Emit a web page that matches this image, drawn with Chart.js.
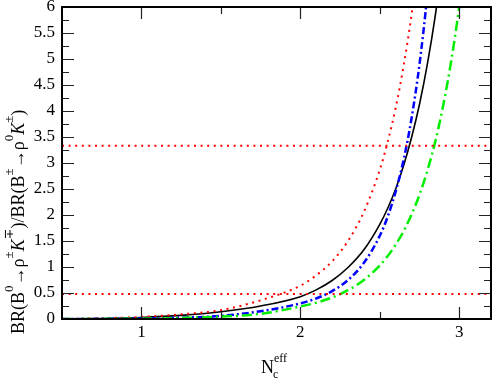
<!DOCTYPE html>
<html>
<head>
<meta charset="utf-8">
<script src="https://cdn.jsdelivr.net/npm/chart.js@4/dist/chart.umd.min.js"></script>
<style>
  html, body { margin: 0; padding: 0; background: #fff; }
  canvas { display: block; }
</style>
</head>
<body>
<canvas id="c" width="493" height="382"></canvas>
<script>
// valores: cociente de BR frente a Nc^eff
const nc = [0.5, 0.75, 1.0, 1.25, 1.5, 1.75, 2.0, 2.1, 2.2, 2.3, 2.4, 2.5, 2.55, 2.6, 2.65, 2.7, 2.75, 2.8, 2.85, 2.9, 2.95, 3.0, 3.05];
const ratioBlack = [0, 0.01, 0.03, 0.07, 0.14, 0.25, 0.43, 0.56, 0.74, 0.99, 1.33, 1.82, 2.13, 2.5, 2.95, 3.49, 4.13, 4.91, 5.85, 7.0, 8.4, 10.1, 12.2];
const ratioRed = [0, 0.015, 0.04, 0.09, 0.17, 0.36, 0.64, 0.84, 1.11, 1.5, 2.06, 2.87, 3.41, 4.06, 4.87, 5.85, 7.06, 8.55, 10.4, 12.7, 15.5, 19, 23];
const ratioBlue = [0, 0.003, 0.01, 0.025, 0.06, 0.15, 0.3, 0.395, 0.536, 0.749, 1.08, 1.6, 1.97, 2.45, 3.06, 3.86, 4.9, 6.27, 8.08, 10.5, 13.7, 18, 24];
const ratioGreen = [0, 0.002, 0.006, 0.02, 0.045, 0.1, 0.24, 0.313, 0.414, 0.554, 0.75, 1.03, 1.21, 1.43, 1.69, 2.01, 2.39, 2.86, 3.42, 4.12, 4.97, 6.01, 7.3];

// bandas experimentales (líneas rojas horizontales)
const bandX = [0.5, 3.2];
const bandHigh = 3.33;
const bandLow = 0.48;

const xTicks = [1, 2, 3];
const xMinor = [1.5, 2.5];
const yTicks = [0, 0.5, 1, 1.5, 2, 2.5, 3, 3.5, 4, 4.5, 5, 5.5, 6];
const yMinor = [0.25, 0.75, 1.25, 1.75, 2.25, 2.75, 3.25, 3.75, 4.25, 4.75, 5.25, 5.75];

const SERIF = '"Liberation Serif", "DejaVu Serif", serif';

const pts = arr => nc.map((x, i) => ({ x, y: arr[i] }));
const band = v => bandX.map(x => ({ x, y: v }));

const base = { pointRadius: 0, fill: false, cubicInterpolationMode: 'monotone', clip: 0 };

// marco, marcas hacia dentro en los cuatro lados y títulos con super/subíndices
const framePlugin = {
  id: 'frame',
  afterDraw(chart) {
    const { ctx, chartArea: a, scales: { x, y } } = chart;
    ctx.save();
    ctx.strokeStyle = '#222';
    ctx.lineWidth = 1.2;
    ctx.beginPath();
    const tickX = (v, len) => {
      const px = Math.round(x.getPixelForValue(v)) + 0.5;
      ctx.moveTo(px, a.bottom); ctx.lineTo(px, a.bottom - len);
      ctx.moveTo(px, a.top); ctx.lineTo(px, a.top + len);
    };
    const tickY = (v, len) => {
      const py = Math.round(y.getPixelForValue(v)) + 0.5;
      ctx.moveTo(a.left, py); ctx.lineTo(a.left + len, py);
      ctx.moveTo(a.right, py); ctx.lineTo(a.right - len, py);
    };
    xTicks.forEach(v => tickX(v, 12));
    xMinor.forEach(v => tickX(v, 7));
    yTicks.forEach(v => tickY(v, 12));
    yMinor.forEach(v => tickY(v, 7));
    ctx.stroke();

    ctx.strokeStyle = '#000';
    ctx.lineWidth = 2;
    ctx.strokeRect(a.left, a.top, a.right - a.left, a.bottom - a.top);

    // título eje x: N_c^eff
    ctx.fillStyle = '#000';
    ctx.textBaseline = 'alphabetic';
    ctx.font = '18px ' + SERIF;
    ctx.fillText('N', 261, 373);
    ctx.font = '12px ' + SERIF;
    ctx.fillText('c', 273, 378);
    ctx.fillText('eff', 274, 362);

    // título eje y: BR(B0→ρ±K∓)/BR(B±→ρ0K±)
    const parts = [
      ['BR(B', 'n'], ['0', 's'], ['\u2192\u03c1', 'n'], ['\u00b1', 's'], ['K', 'i'], ['\u2213', 's'],
      [')/BR(B', 'n'], ['\u00b1', 's'], ['\u2192\u03c1', 'n'], ['0', 's'], ['K', 'i'], ['\u00b1', 's'], [')', 'n']
    ];
    const fontOf = k => k === 's' ? '13px ' + SERIF : (k === 'i' ? 'italic 18px ' + SERIF : '18px ' + SERIF);
    ctx.translate(24, 334);
    ctx.rotate(-Math.PI / 2);
    let cx = 0;
    parts.forEach(([t, k]) => {
      ctx.font = fontOf(k);
      ctx.fillText(t, cx, k === 's' ? -11 : 0);
      cx += ctx.measureText(t).width;
    });
    ctx.restore();
  }
};

new Chart('c', {
  type: 'line',
  data: {
    datasets: [
      { ...base, data: band(bandHigh), borderColor: '#ff0000', borderWidth: 2, borderDash: [2, 4.6], cubicInterpolationMode: 'default' },
      { ...base, data: band(bandLow), borderColor: '#ff0000', borderWidth: 2, borderDash: [2, 4.6], cubicInterpolationMode: 'default' },
      { ...base, data: pts(ratioGreen), borderColor: '#00ee00', borderWidth: 2.5, borderDash: [10, 4, 2, 4] },
      { ...base, data: pts(ratioBlue), borderColor: '#0000ff', borderWidth: 2.5, borderDash: [7, 3, 2, 3] },
      { ...base, data: pts(ratioRed), borderColor: '#ff0000', borderWidth: 2, borderDash: [2, 4.6] },
      { ...base, data: pts(ratioBlack), borderColor: '#000000', borderWidth: 1.6 }
    ]
  },
  options: {
    responsive: false,
    devicePixelRatio: 1,
    animation: false,
    layout: { padding: { top: 7, right: 2, left: 0, bottom: 0 } },
    plugins: { legend: { display: false }, tooltip: { enabled: false } },
    scales: {
      x: {
        type: 'linear', min: 0.5, max: 3.2,
        grid: { display: false, drawTicks: false, tickLength: 0 }, border: { display: false },
        afterBuildTicks: s => { s.ticks = xTicks.map(v => ({ value: v })); },
        afterFit: s => { s.height = 63; s.paddingLeft = 0; s.paddingRight = 0; },
        ticks: { color: '#000', padding: 3, font: { family: SERIF, size: 17 }, callback: v => String(v) }
      },
      y: {
        type: 'linear', min: 0, max: 6,
        grid: { display: false, drawTicks: false, tickLength: 0 }, border: { display: false },
        afterBuildTicks: s => { s.ticks = yTicks.map(v => ({ value: v })); },
        afterFit: s => { s.width = 62; s.paddingTop = 0; s.paddingBottom = 0; },
        ticks: { color: '#000', padding: 7, font: { family: SERIF, size: 17 }, callback: v => String(v) }
      }
    }
  },
  plugins: [framePlugin]
});
</script>
</body>
</html>
